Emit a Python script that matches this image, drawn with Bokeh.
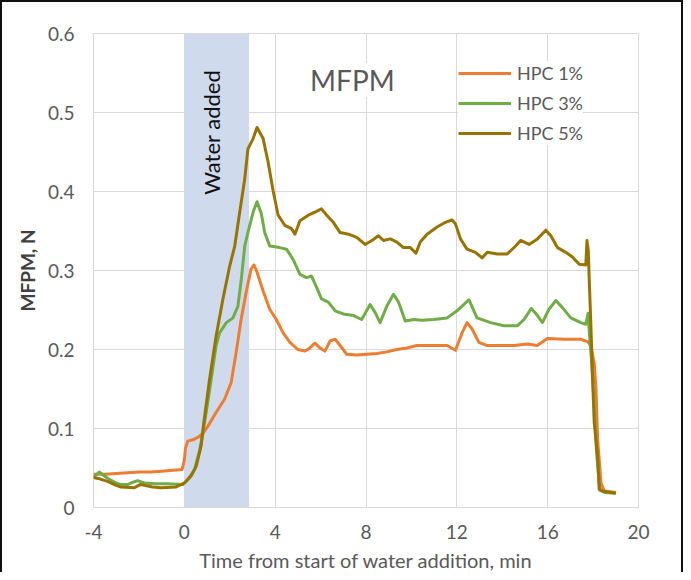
from bokeh.plotting import figure
from bokeh.models import ColumnDataSource, BoxAnnotation, Label, Legend, LegendItem, CustomJSTickFormatter, FixedTicker, Range1d
from bokeh.embed import file_html
from bokeh.resources import INLINE
import math

# ---- data ----
hpc1_x = [-4, -3.5, -3.0, -2.5, -2.0, -1.5, -1.0, -0.5, -0.1, 0.0, 0.05, 0.15, 0.4, 0.67, 0.85, 1.04, 1.39, 1.77, 2.06, 2.28, 2.5, 2.72, 2.94, 3.07, 3.2, 3.47, 3.76, 4.05, 4.35, 4.65, 5.0, 5.31, 5.53, 5.75, 5.97, 6.19, 6.42, 6.64, 6.86, 7.15, 7.59, 8.03, 8.48, 8.92, 9.36, 9.8, 10.24, 10.98, 11.57, 11.94, 12.23, 12.45, 12.67, 12.97, 13.34, 13.93, 14.52, 15.1, 15.54, 15.99, 16.72, 17.46, 17.75, 17.9, 18.05, 18.13, 18.2, 18.35, 18.49, 19.0]
hpc1_y = [0.042, 0.042, 0.043, 0.044, 0.045, 0.045, 0.046, 0.047, 0.048, 0.06, 0.075, 0.084, 0.086, 0.090, 0.095, 0.103, 0.12, 0.137, 0.158, 0.196, 0.238, 0.272, 0.302, 0.307, 0.298, 0.274, 0.251, 0.238, 0.221, 0.209, 0.200, 0.198, 0.202, 0.208, 0.202, 0.198, 0.211, 0.213, 0.205, 0.194, 0.193, 0.194, 0.195, 0.197, 0.200, 0.202, 0.205, 0.205, 0.205, 0.199, 0.221, 0.234, 0.226, 0.209, 0.205, 0.205, 0.205, 0.207, 0.205, 0.214, 0.213, 0.213, 0.21, 0.205, 0.183, 0.15, 0.086, 0.031, 0.021, 0.019]

hpc3_x = [-4, -3.75, -3.38, -3.0, -2.79, -2.5, -2.35, -2.06, -1.76, -1.32, -0.73, -0.07, 0.15, 0.45, 0.67, 0.82, 0.96, 1.18, 1.4, 1.55, 1.85, 2.14, 2.36, 2.51, 2.66, 2.8, 3.03, 3.2, 3.39, 3.54, 3.76, 4.2, 4.5, 4.79, 5.09, 5.38, 5.6, 5.82, 6.04, 6.34, 6.64, 7.0, 7.45, 7.81, 8.18, 8.4, 8.62, 8.92, 9.21, 9.43, 9.73, 10.1, 10.46, 10.98, 11.57, 12.01, 12.53, 12.89, 13.49, 14.07, 14.66, 14.96, 15.28, 15.55, 15.77, 16.06, 16.36, 16.65, 17.02, 17.46, 17.68, 17.78, 17.82, 17.92, 18.05, 18.15, 18.3, 18.5, 19.0]
hpc3_y = [0.038, 0.045, 0.037, 0.031, 0.029, 0.029, 0.031, 0.034, 0.031, 0.030, 0.030, 0.029, 0.035, 0.048, 0.072, 0.095, 0.12, 0.162, 0.205, 0.221, 0.234, 0.240, 0.255, 0.289, 0.331, 0.348, 0.374, 0.387, 0.372, 0.348, 0.331, 0.329, 0.327, 0.314, 0.295, 0.291, 0.293, 0.279, 0.264, 0.26, 0.249, 0.245, 0.243, 0.238, 0.257, 0.247, 0.234, 0.255, 0.27, 0.26, 0.236, 0.238, 0.237, 0.238, 0.240, 0.249, 0.263, 0.240, 0.234, 0.230, 0.230, 0.238, 0.252, 0.243, 0.234, 0.251, 0.262, 0.253, 0.240, 0.234, 0.232, 0.246, 0.228, 0.19, 0.13, 0.07, 0.022, 0.019, 0.018]

hpc5_x = [-4, -3.7, -3.38, -3.0, -2.79, -2.2, -1.95, -1.76, -1.4, -1.03, -0.36, 0.0, 0.3, 0.52, 0.74, 0.82, 1.11, 1.4, 1.7, 2.0, 2.22, 2.44, 2.66, 2.8, 3.03, 3.2, 3.47, 3.69, 3.91, 4.13, 4.43, 4.72, 4.87, 5.09, 5.46, 5.75, 6.04, 6.27, 6.56, 6.86, 7.23, 7.59, 7.96, 8.26, 8.55, 8.77, 9.07, 9.36, 9.65, 9.95, 10.2, 10.39, 10.69, 11.13, 11.5, 11.79, 11.94, 12.16, 12.45, 12.82, 13.11, 13.34, 13.78, 14.22, 14.59, 14.81, 15.18, 15.55, 15.92, 16.14, 16.43, 16.8, 17.09, 17.39, 17.68, 17.73, 17.79, 17.83, 17.9, 17.97, 18.05, 18.2, 18.27, 18.42, 19.0]
hpc5_y = [0.038, 0.036, 0.033, 0.028, 0.026, 0.025, 0.029, 0.028, 0.026, 0.025, 0.026, 0.031, 0.040, 0.052, 0.078, 0.099, 0.162, 0.217, 0.264, 0.306, 0.331, 0.374, 0.416, 0.454, 0.467, 0.481, 0.467, 0.437, 0.401, 0.37, 0.357, 0.353, 0.346, 0.363, 0.37, 0.374, 0.378, 0.37, 0.361, 0.348, 0.346, 0.342, 0.333, 0.338, 0.344, 0.338, 0.34, 0.336, 0.329, 0.329, 0.322, 0.336, 0.346, 0.355, 0.361, 0.364, 0.359, 0.34, 0.327, 0.323, 0.316, 0.323, 0.321, 0.321, 0.331, 0.338, 0.333, 0.34, 0.351, 0.344, 0.329, 0.323, 0.317, 0.308, 0.307, 0.338, 0.325, 0.289, 0.234, 0.171, 0.107, 0.065, 0.023, 0.021, 0.018]

series_names = ["HPC 1%", "HPC 3%", "HPC 5%"]
series_colors = ["#ED7D31", "#70AD47", "#997300"]

water_start = 0.0
water_end = 2.85

x_ticks = [-4, 0, 4, 8, 12, 16, 20]
y_ticks = [0, 0.1, 0.2, 0.3, 0.4, 0.5, 0.6]

FONT = "Lato"
GRAY = "#595959"

p = figure(width=683, height=572, output_backend="svg", toolbar_location=None,
           x_range=Range1d(-4, 20), y_range=Range1d(0, 0.6),
           min_border_left=91, min_border_right=47, min_border_top=31, min_border_bottom=64)
p.styles = {"border-left": "2px solid #111", "border-top": "2px solid #111", "border-right": "2px solid #111",
            "box-sizing": "border-box"}

p.background_fill_color = "white"
p.border_fill_color = "white"
p.outline_line_color = "#d9d9d9"
p.outline_line_width = 1

# water band
band = BoxAnnotation(left=water_start, right=water_end, fill_color="#cfdbec", fill_alpha=1.0,
                     line_color=None, level="underlay")
p.add_layout(band)

# grids
for g in (p.xgrid, p.ygrid):
    g.grid_line_color = "#d9d9d9"
    g.grid_line_width = 1
    g.level = "underlay"
p.xgrid.ticker = FixedTicker(ticks=x_ticks)
p.ygrid.ticker = FixedTicker(ticks=y_ticks)

# axes
p.xaxis.ticker = FixedTicker(ticks=x_ticks)
p.yaxis.ticker = FixedTicker(ticks=y_ticks)
p.xaxis.formatter = CustomJSTickFormatter(code="return String(Math.round(tick));")
p.yaxis.formatter = CustomJSTickFormatter(code="var s = tick.toFixed(1); return s == '0.0' ? '0' : s;")
for ax in (p.xaxis[0], p.yaxis[0]):
    ax.axis_line_color = None
    ax.major_tick_line_color = None
    ax.minor_tick_line_color = None
    ax.major_label_text_font = FONT
    ax.major_label_text_font_size = "19px"
    ax.major_label_text_color = GRAY
    ax.axis_label_text_font = FONT
    ax.axis_label_text_font_style = "normal"
p.xaxis.axis_line_color = "#d9d9d9"
p.xaxis.major_label_standoff = 11
p.yaxis.major_label_standoff = 13
p.xaxis.axis_label = "Time from start of water addition, min"
p.xaxis.axis_label_text_font_size = "20px"
p.xaxis.axis_label_text_color = GRAY
p.xaxis.axis_label_standoff = 6
p.yaxis.axis_label = "MFPM, N"
p.yaxis.axis_label_text_font_size = "19px"
p.yaxis.axis_label_text_font_style = "bold"
p.yaxis.axis_label_text_color = "#404040"
p.yaxis.axis_label_standoff = 6

# lines
items = []
for name, color, xs, ys in zip(series_names, series_colors, [hpc1_x, hpc3_x, hpc5_x], [hpc1_y, hpc3_y, hpc5_y]):
    src = ColumnDataSource(data=dict(x=xs, y=ys))
    r = p.line("x", "y", source=src, line_color=color, line_width=3, line_join="round")
    items.append(LegendItem(label=name, renderers=[r]))

legend = Legend(items=items, location=(365, 362), orientation="vertical")
legend.background_fill_color = "white"
legend.background_fill_alpha = 1.0
legend.border_line_color = None
legend.padding = 12
legend.margin = 0
legend.spacing = 6
legend.glyph_width = 53
legend.glyph_height = 24
legend.label_height = 24
legend.label_standoff = 6
legend.label_text_font = FONT
legend.label_text_font_size = "18px"
legend.label_text_color = GRAY
p.add_layout(legend, "center")

# labels
title = Label(x=7.4, y=0.541, text="MFPM", text_font=FONT, text_font_size="28px", text_color=GRAY,
              text_align="center", text_baseline="middle",
              background_fill_color="white", background_fill_alpha=1.0)
p.add_layout(title)

water = Label(x=1.21, y=0.475, text="Water added", text_font=FONT, text_font_size="22px", text_color="#111111",
              angle=math.pi / 2, text_align="center", text_baseline="middle")
p.add_layout(water)

open("out.html", "w").write(file_html(p, INLINE))
